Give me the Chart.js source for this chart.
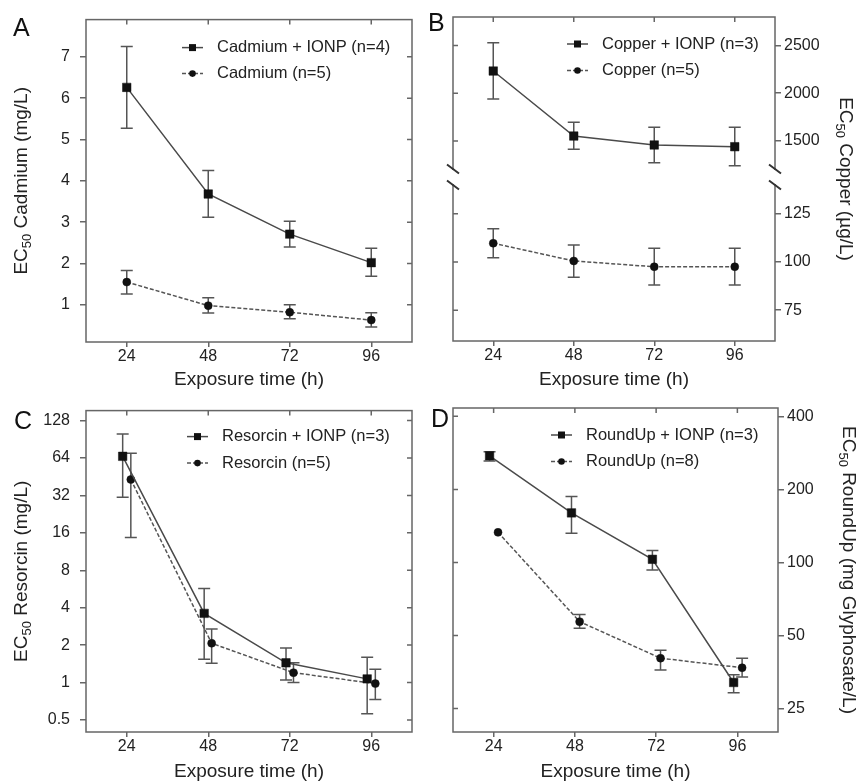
<!DOCTYPE html>
<html>
<head>
<meta charset="utf-8">
<script src="https://cdn.jsdelivr.net/npm/chart.js@4.4.1/dist/chart.umd.min.js"></script>
<style>
  body { margin: 0; background: #fff; width: 860px; height: 783px; position: relative; overflow: hidden; }
  canvas { position: absolute; }
  .tag { position: absolute; font: 25px Arial, 'Liberation Sans', sans-serif; line-height: 1; color: #111; }
</style>
</head>
<body>
<canvas id="cA" width="430" height="391" style="left:0;top:0"></canvas>
<canvas id="cB" width="430" height="391" style="left:430px;top:0"></canvas>
<canvas id="cC" width="430" height="392" style="left:0;top:391px"></canvas>
<canvas id="cD" width="430" height="392" style="left:430px;top:391px"></canvas>
<div class="tag" style="left:13px;top:15px">A</div>
<div class="tag" style="left:428px;top:10px">B</div>
<div class="tag" style="left:14px;top:408px">C</div>
<div class="tag" style="left:431px;top:406px">D</div>
<script>
// exposure times (h)
const hours = [24, 48, 72, 96];
const hourTicks = [24, 48, 72, 96];

// A - cadmium (mg/L)
const cdIonp = [6.26, 3.68, 2.71, 2.02];
const cdIonpLo = [5.27, 3.12, 2.40, 1.69];
const cdIonpHi = [7.25, 4.25, 3.02, 2.37];
const cd = [1.55, 0.98, 0.82, 0.63];
const cdLo = [1.26, 0.80, 0.66, 0.46];
const cdHi = [1.83, 1.17, 1.00, 0.81];
const cdTicks = [1, 2, 3, 4, 5, 6, 7];

// B - copper (ug/L), broken axis
const cuIonp = [2233, 1551, 1457, 1439];
const cuIonpLo = [1939, 1412, 1271, 1240];
const cuIonpHi = [2530, 1695, 1642, 1642];
const cu = [109.7, 100.5, 97.5, 97.5];
const cuLo = [102.2, 92.0, 88.0, 88.0];
const cuHi = [117.2, 108.8, 107.1, 107.1];
const cuTopTicks = [1500, 2000, 2500];
const cuBotTicks = [75, 100, 125];

// C - resorcin (mg/L), points nudged apart in time
const resIonpTime = [22.8, 46.8, 70.9, 94.8];
const resTime = [25.2, 49.0, 73.1, 97.2];
const resIonp = [66, 3.6, 1.44, 1.07];
const resIonpLo = [31, 1.54, 1.05, 0.56];
const resIonpHi = [100, 5.7, 1.9, 1.6];
const res = [43, 2.07, 1.2, 0.98];
const resLo = [14.7, 1.43, 1.0, 0.73];
const resHi = [70, 2.7, 1.44, 1.28];
const resTicks = [0.5, 1, 2, 4, 8, 16, 32, 64, 128];

// D - RoundUp (mg glyphosate/L)
const ruIonpTime = [22.8, 47.0, 70.9, 94.9];
const ruTime = [25.3, 49.4, 73.3, 97.4];
const ruIonp = [275, 160, 103, 32];
const ruIonpLo = [262, 132, 93, 29];
const ruIonpHi = [286, 187, 112, 34.4];
const ru = [133, 57, 40.3, 36.8];
const ruLo = [null, 53.5, 36, 33.7];
const ruHi = [null, 61, 43.5, 40.3];
const ruTicks = [25, 50, 100, 200, 400];

const FONT = "Arial, 'Liberation Sans', sans-serif";
const INK = '#222';
const FRAME = '#666';
const LINE = '#4a4a4a';
const DASH = '#555';
const MARK = '#111';
const TICK = 5;
const CAP = 6;

// box around the plot + mirrored inner ticks (+ optional axis break)
const frame = {
  id: 'frame',
  beforeDatasetsDraw(chart, args, o) {
    const {ctx, chartArea: a, scales} = chart;
    ctx.save();
    ctx.strokeStyle = FRAME;
    ctx.lineWidth = 1.5;
    ctx.strokeRect(a.left, a.top, a.width, a.height);
    ctx.beginPath();
    scales.x.ticks.forEach(t => {
      const px = scales.x.getPixelForValue(t.value);
      ctx.moveTo(px, a.top);
      ctx.lineTo(px, a.top + TICK);
    });
    Object.values(scales).filter(s => s.axis === 'y').forEach(s => {
      const edge = s.position === 'left' ? a.right : a.left;
      const dir = s.position === 'left' ? -1 : 1;
      s.ticks.forEach(t => {
        const py = s.getPixelForValue(t.value);
        ctx.moveTo(edge, py);
        ctx.lineTo(edge + dir * TICK, py);
      });
    });
    ctx.stroke();
    if (o.breakScale) {
      const by = scales[o.breakScale].bottom - 2;
      [a.left, a.right].forEach(ex => {
        ctx.fillStyle = '#fff';
        ctx.fillRect(ex - 3, by - 7, 6, 14);
        ctx.strokeStyle = '#333';
        ctx.lineWidth = 2;
        ctx.beginPath();
        [-8, 8].forEach(d => {
          ctx.moveTo(ex - 6, by + d - 4.5);
          ctx.lineTo(ex + 6, by + d + 4.5);
        });
        ctx.stroke();
      });
    }
    ctx.restore();
  }
};

const errorBars = {
  id: 'errorBars',
  beforeDatasetsDraw(chart) {
    const {ctx} = chart;
    ctx.save();
    ctx.strokeStyle = '#555';
    ctx.lineWidth = 1.5;
    chart.data.datasets.forEach((ds, i) => {
      const meta = chart.getDatasetMeta(i);
      const ys = chart.scales[meta.yAxisID];
      meta.data.forEach((pt, j) => {
        if (ds.errLo[j] == null) return;
        const y1 = ys.getPixelForValue(ds.errLo[j]);
        const y2 = ys.getPixelForValue(ds.errHi[j]);
        ctx.beginPath();
        ctx.moveTo(pt.x, y1); ctx.lineTo(pt.x, y2);
        ctx.moveTo(pt.x - CAP, y1); ctx.lineTo(pt.x + CAP, y1);
        ctx.moveTo(pt.x - CAP, y2); ctx.lineTo(pt.x + CAP, y2);
        ctx.stroke();
      });
    });
    ctx.restore();
  }
};

// legend drawn inside the plot, top right
const boxLegend = {
  id: 'boxLegend',
  afterDatasetsDraw(chart, args, o) {
    const {ctx, chartArea: a} = chart;
    ctx.save();
    chart.data.datasets.forEach((ds, i) => {
      const x = a.left + o.x, y = a.top + o.y + i * o.gap;
      ctx.strokeStyle = ds.borderColor;
      ctx.lineWidth = 1.5;
      ctx.setLineDash(ds.borderDash);
      ctx.beginPath();
      ctx.moveTo(x, y); ctx.lineTo(x + 21, y);
      ctx.stroke();
      ctx.setLineDash([]);
      ctx.fillStyle = MARK;
      ctx.beginPath();
      if (ds.pointStyle === 'rect') ctx.rect(x + 7, y - 3.5, 7, 7);
      else ctx.arc(x + 10.5, y, 3.3, 0, Math.PI * 2);
      ctx.fill();
      ctx.fillStyle = INK;
      ctx.font = '16.5px ' + FONT;
      ctx.textBaseline = 'middle';
      ctx.fillText(ds.label, x + 35, y);
    });
    ctx.restore();
  }
};

// rotated "EC50 ..." axis title with a real subscript
const ecTitle = {
  id: 'ecTitle',
  afterDraw(chart, args, o) {
    const {ctx, chartArea: a} = chart;
    const left = o.side === 'left';
    const big = '19px ' + FONT, small = '13px ' + FONT;
    ctx.save();
    ctx.font = big;
    const w1 = ctx.measureText('EC').width;
    const w3 = ctx.measureText(' ' + o.text).width;
    ctx.font = small;
    const w2 = ctx.measureText('50').width;
    ctx.translate(left ? a.left - o.dist : a.right + o.dist, (a.top + a.bottom) / 2);
    ctx.rotate(left ? -Math.PI / 2 : Math.PI / 2);
    ctx.fillStyle = INK;
    ctx.textBaseline = 'middle';
    let cx = -(w1 + w2 + w3) / 2;
    ctx.font = big; ctx.fillText('EC', cx, 0); cx += w1;
    ctx.font = small; ctx.fillText('50', cx, 5); cx += w2;
    ctx.font = big; ctx.fillText(' ' + o.text, cx, 0);
    ctx.restore();
  }
};

function series(label, xs, ys, lo, hi, solid, axis) {
  return {
    label,
    data: xs.map((x, i) => ({x, y: ys[i]})),
    errLo: lo,
    errHi: hi,
    yAxisID: axis || 'y',
    borderColor: solid ? LINE : DASH,
    borderWidth: 1.5,
    borderDash: solid ? [] : [4, 2],
    pointStyle: solid ? 'rect' : 'circle',
    pointRadius: solid ? 6 : 4,
    pointBackgroundColor: MARK,
    pointBorderColor: MARK,
    pointBorderWidth: 0.5,
    tension: 0,
    fill: false
  };
}

function xAxis(h) {
  return {
    type: 'linear', position: 'bottom', min: 12, max: 108,
    afterBuildTicks: s => { s.ticks = hourTicks.map(v => ({value: v})); },
    afterFit: s => { s.height = h; },
    grid: {drawOnChartArea: false, tickLength: TICK, color: FRAME, lineWidth: 1.5},
    border: {display: false},
    ticks: {color: INK, font: {family: FONT, size: 16}, padding: 0, maxRotation: 0, callback: v => String(v)},
    title: {display: true, text: 'Exposure time (h)', color: INK, font: {family: FONT, size: 19}, padding: 0}
  };
}

function yAxis(type, position, min, max, ticks, w, extra) {
  return Object.assign({
    type, position, min, max,
    afterBuildTicks: s => { s.ticks = ticks.map(v => ({value: v})); },
    afterFit: s => { s.width = w; },
    grid: {drawOnChartArea: false, tickLength: TICK + 1, color: FRAME, lineWidth: 1.5},
    border: {display: false},
    ticks: {color: INK, font: {family: FONT, size: 16}, padding: position === 'left' ? 10 : 3, callback: v => String(v)}
  }, extra || {});
}

function panel(id, datasets, yScales, pad, xh, legend, title, brk) {
  return new Chart(document.getElementById(id), {
    type: 'line',
    data: {datasets},
    options: {
      responsive: false,
      animation: false,
      layout: {padding: pad},
      plugins: {
        legend: {display: false},
        tooltip: {enabled: false},
        boxLegend: legend,
        ecTitle: title,
        frame: {breakScale: brk}
      },
      scales: Object.assign({x: xAxis(xh)}, yScales)
    },
    plugins: [frame, errorBars, boxLegend, ecTitle]
  });
}

panel('cA', [
  series('Cadmium + IONP (n=4)', hours, cdIonp, cdIonpLo, cdIonpHi, true),
  series('Cadmium (n=5)', hours, cd, cdLo, cdHi, false)
], {y: yAxis('linear', 'left', 0.1, 7.9, cdTicks, 86)},
  {top: 17, right: 18, bottom: 0, left: 0}, 49,
  {x: 96, y: 28, gap: 26}, {side: 'left', dist: 64, text: 'Cadmium (mg/L)'});

panel('cB', [
  series('Copper + IONP (n=3)', hours, cuIonp, cuIonpLo, cuIonpHi, true, 'yTop'),
  series('Copper (n=5)', hours, cu, cuLo, cuHi, false, 'yBot')
], {
  yTop: yAxis('linear', 'right', 1100, 2800, cuTopTicks, 85, {stack: 'cu', stackWeight: 1}),
  yBot: yAxis('linear', 'right', 59, 143, cuBotTicks, 85, {stack: 'cu', stackWeight: 1})
}, {top: 17, right: 0, bottom: 0, left: 23}, 50,
  {x: 114, y: 27, gap: 26.5}, {side: 'right', dist: 70, text: 'Copper (µg/L)'}, 'yTop');

panel('cC', [
  series('Resorcin + IONP (n=3)', resIonpTime, resIonp, resIonpLo, resIonpHi, true),
  series('Resorcin (n=5)', resTime, res, resLo, resHi, false)
], {y: yAxis('logarithmic', 'left', 0.4, 154, resTicks, 86)},
  {top: 18, right: 18, bottom: 0, left: 0}, 51,
  {x: 101, y: 26, gap: 26.5}, {side: 'left', dist: 64, text: 'Resorcin (mg/L)'});

panel('cD', [
  series('RoundUp + IONP (n=3)', ruIonpTime, ruIonp, ruIonpLo, ruIonpHi, true),
  series('RoundUp (n=8)', ruTime, ru, ruLo, ruHi, false)
], {y: yAxis('logarithmic', 'right', 20, 433, ruTicks, 82)},
  {top: 17, right: 0, bottom: 0, left: 23}, 51,
  {x: 98, y: 27, gap: 26.5}, {side: 'right', dist: 70, text: 'RoundUp (mg Glyphosate/L)'});
</script>
</body>
</html>
